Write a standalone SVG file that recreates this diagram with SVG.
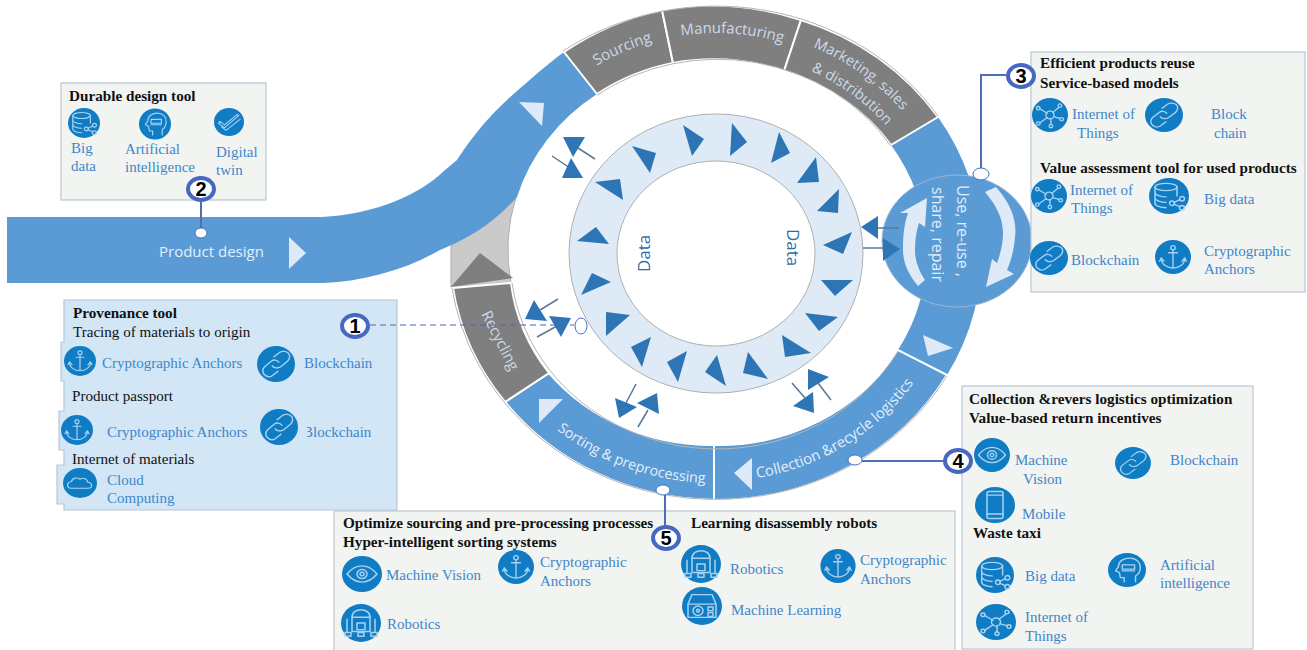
<svg xmlns="http://www.w3.org/2000/svg" xmlns:xlink="http://www.w3.org/1999/xlink" width="1307" height="650" viewBox="0 0 1307 650">
<style>
.band{fill:#5b9bd5}
.grey{fill:#7f7f7f;stroke:#fff;stroke-width:2}
.blue{fill:#5b9bd5;stroke:#fff;stroke-width:2}
.edge{fill:none;stroke:#b5b5b5;stroke-width:1}
.lt{fill:#deeaf7}
.tri{fill:#2e75b6}
.arr{stroke:#5a7896;stroke-width:1.5;fill:none}
.conn{stroke:#4f6fb5;stroke-width:2;fill:none}
.dot{fill:#fff;stroke:#4472c4;stroke-width:1}
.panel{fill:#f2f4f2;stroke:#b9c6d6;stroke-width:1.2}
.h{font:bold 15.2px "Liberation Serif",serif;fill:#111}
.b{font:15.1px "Liberation Serif",serif;fill:#111}
.t{font:15px "Liberation Serif",serif;fill:#3f86c8}
.w{font:15px "Open Sans",sans-serif;fill:#e4eefa}
.g{font:15px "Open Sans",sans-serif;fill:#cddaea}
.d{font:500 17px "Open Sans",sans-serif;fill:#2e6da4}
.num{fill:#fff;stroke:#4668c0;stroke-width:4}
.n{font:bold 20px "Liberation Sans",sans-serif;fill:#000;text-anchor:middle}
.ic{fill:none;stroke:#a9d2ef;stroke-width:1.5;stroke-linecap:round;stroke-linejoin:round}
</style>
<defs>
<circle id="bg" r="20" fill="#0f7cc4"/>
<g id="i-data"><use href="#bg"/><g class="ic"><ellipse cx="-3" cy="-10" rx="11" ry="4"/><path d="M-14-10V8C-14 11-8 13-3 13M8-10V0M-14-4C-14-1-8 1-3 1M-14 2C-14 5-8 7-3 7"/><circle cx="3" cy="8" r="2.5"/><circle cx="13" cy="3" r="2.5"/><circle cx="13" cy="13" r="2.5"/><path d="M5 7L11 4M5 9L11 12"/></g></g>
<g id="i-ai"><use href="#bg"/><g class="ic"><path d="M-3 14V9H-7L-8 3-12 1-9-4C-9-11-3-14 3-14 10-14 14-9 14-3 14 2 12 5 9 7V14"/><path d="M-5-6H8V-1H-5ZM-5 1H8"/></g></g>
<g id="i-twin"><use href="#bg"/><g class="ic"><path d="M-14 2L-6 8 13-9 11-11-6 4-12-1ZM-10 7L-4 12 15-4"/></g></g>
<g id="i-iot"><use href="#bg"/><g class="ic"><circle r="4.5"/><circle cx="-13" cy="-8" r="2"/><circle cx="-13" cy="10" r="2"/><circle cx="1" cy="13" r="2"/><circle cx="13" cy="5" r="2"/><circle cx="11" cy="-11" r="2"/><path d="M-3-2L-11-7M-3 3L-11 9M1 4V11M4 2L11 4M3-3L10-9"/></g></g>
<g id="i-chain"><use href="#bg"/><g class="ic" stroke-width="2"><path d="M-2-8L4-13C7-15 11-14 13-12S15-6 12-3L5 3C2 5-2 5-4 2"/><path d="M3-2C1-5-3-5-5-3L-12 3C-15 6-14 10-12 12S-7 15-4 13L2 8"/></g></g>
<g id="i-anchor"><use href="#bg"/><g class="ic"><circle cy="-11" r="2.5"/><path d="M0-8V13M-5-5H5M-13 2C-13 9-6 13 0 13S13 9 13 2M-15 5L-13 1-10 5M10 5L13 1 15 5"/></g></g>
<g id="i-eye"><use href="#bg"/><g class="ic"><path d="M-15 0C-9-8-4-9 0-9S9-8 15 0C9 8 4 9 0 9S-9 8-15 0Z"/><circle r="5"/><circle r="2"/></g></g>
<g id="i-mobile"><use href="#bg"/><g class="ic"><rect x="-8" y="-15" width="16" height="30" rx="2"/><path d="M-8-11H8M-8 10H8"/></g></g>
<g id="i-robot"><use href="#bg"/><g class="ic"><path d="M-9-6C-9-12-4-14 0-14S9-12 9-6V9H-9Z"/><path d="M-9-6H9M-14-4V10M14-4V10M-4 0H4V7H-4ZM-16 10H-10V14H-16ZM-3 10H3V14H-3ZM10 10H16V14H10Z"/></g></g>
<g id="i-cloud"><use href="#bg"/><path class="ic" d="M-11 7C-16 7-16-1-10-2-9-7-3-8 0-5 4-8 9-5 9-1 15-1 15 7 10 7Z"/></g>
<g id="i-ml"><use href="#bg"/><g class="ic"><path d="M-14-2L-10-12H10L14-2V12H-14ZM-14-2H14"/><circle cx="-4" cy="5" r="5"/><circle cx="-4" cy="5" r="1.5"/><path d="M6 1H11V5H6ZM6 7H11V11H6Z"/></g></g>
<path id="p-top" d="M488 253A228 220 0 0 1 944 253"/>
<path id="p-mk1" d="M813 47A240 225 0 0 1 956 253"/>
<path id="p-mk2" d="M811 71A219 202 0 0 1 935 253"/>
<path id="p-sort" d="M557 430A248 230 0 0 0 716 483"/>
<path id="p-coll" d="M757 478A240 228 0 0 0 925 366"/>
</defs>

<g id="inner-ring">
<path fill-rule="evenodd" fill="#deeaf6" stroke="#b0b0b0" stroke-width="1" d="M569 253.500A147 139.500 0 1 1 863 253.500A147 139.500 0 1 1 569 253.500ZM617 253.500A99 92.500 0 1 0 815 253.500A99 92.500 0 1 0 617 253.500Z"/>
<g class="tri">
<polygon points="683,125 704,139 692,156"/><polygon points="732,123 747,142 730,156"/><polygon points="779,132 790,153 771,163"/><polygon points="816,157 819,182 797,183"/><polygon points="839,189 838,213 817,211"/><polygon points="852,232 843,254 823,245"/><polygon points="632,146 656,153 650,173"/><polygon points="595,182 620,179 623,200"/><polygon points="577,241 596,227 609,244"/><polygon points="821,280 853,280 835,296"/><polygon points="805,313 838,317 819,331"/><polygon points="782,335 811,353 785,357"/><polygon points="748,352 768,379 743,373"/><polygon points="717,355 726,386 705,372"/><polygon points="687,351 678,382 667,362"/><polygon points="651,337 642,367 631,347"/><polygon points="606,312 630,315 606,336"/><polygon points="581,295 592,273 611,282"/>
</g>
<text class="d" transform="translate(650 272) rotate(-90)">Data</text>
<text class="d" transform="translate(787 229) rotate(90)">Data</text>
</g>

<g id="recycling-entry">
<path fill="#cbcaca" stroke="#adadad" d="M451 287V246L516 197A208 192 0 0 0 511 283Z"/>
<polygon points="480,253 513,278 451,287" fill="#7f7f7f"/>
</g>

<g id="product-design">
<path class="band" d="M7 217H322C375 214 420 195 445 170L457 160C465 148 480 125 507 100C525 84 545 66 564 52L597 94A208 192 0 0 0 517 197C495 222 470 238 440 250C405 270 365 281 324 283H7Z"/>
<polygon class="lt" points="289,237 306,253 289,269"/>
<polygon class="lt" points="519,102 544,103 542,126"/>
<text class="w" x="159" y="257">Product design</text>
</g>

<g id="use-band">
<path class="band" d="M938 117A266 247 0 0 1 947 375L898 350A208 192 0 0 0 891 145Z"/>
<polygon class="lt" points="923,335 953,348 928,356"/>
</g>

<g id="sourcing">
<path class="grey" d="M564 52A266 247 0 0 1 662 10L673 63A208 192 0 0 0 597 94Z"/>
<text class="g"><textPath href="#p-top" startOffset="36.500%" text-anchor="middle">Sourcing</textPath></text>
</g>
<g id="manufacturing">
<path class="grey" d="M662 10A266 247 0 0 1 801 20L784 71A208 192 0 0 0 673 63Z"/>
<text class="g"><textPath href="#p-top" startOffset="52.300%" text-anchor="middle">Manufacturing</textPath></text>
</g>
<g id="marketing">
<path class="grey" d="M801 20A266 247 0 0 1 938 117L891 145A208 192 0 0 0 784 71Z"/>
<text class="g" style="font-size:14.600px"><textPath href="#p-mk1">Marketing, sales</textPath></text>
<text class="g" style="font-size:14.600px"><textPath href="#p-mk2">&amp; distribution</textPath></text>
</g>
<g id="collection">
<path class="blue" d="M947 375A266 247 0 0 1 714 500V445A208 192 0 0 0 898 350Z"/>
<polygon class="lt" points="752,458 734,473 752,490"/>
<text class="w" style="font-size:14.700px"><textPath href="#p-coll">Collection &amp;recycle logistics</textPath></text>
</g>
<g id="sorting">
<path class="blue" d="M714 500A266 247 0 0 1 505 402L549 373A208 192 0 0 0 714 445Z"/>
<polygon class="lt" points="539,399 563,399 539,423"/>
<text class="w" style="font-size:14.300px"><textPath href="#p-sort">Sorting &amp; preprocessing</textPath></text>
</g>
<g id="recycling">
<path class="grey" d="M505 402A266 247 0 0 1 453 288L511 283A208 192 0 0 0 549 373Z"/>
<text class="g" transform="translate(481 314) rotate(63)">Recycling</text>
</g>
<path class="edge" d="M563 51A267 248 0 0 1 938 116M947 376A267 248 0 0 1 452 288M597 95A207 191 0 0 1 891 146M898 351A207 191 0 0 1 512 283"/>

<g id="hub">
<ellipse cx="957" cy="241" rx="75" ry="66" fill="#5b9bd5" stroke="#9db6d0" stroke-width="1"/>
<path class="lt" d="M985 192L996 187C1012 205 1017 222 1015 237C1014 250 1011 261 1007 270L1014 274 986 287 992 259 997 263C1001 252 1003 243 1003 233C1003 218 996 205 985 192Z"/>
<path class="lt" d="M925 280L918 286C908 274 903 262 903 250C903 236 904 224 908 213L900 213 927 198 925 227 919 223C916 232 915 241 915 250C915 261 919 271 925 280Z"/>
<text class="w" style="font-size:16px" transform="translate(957 185) rotate(90)">Use, re-use ,</text>
<text class="w" style="font-size:16px" transform="translate(932 187) rotate(90)">share, repair</text>
</g>

<g id="exchange-arrows">
<path class="arr" d="M578 148L595 159M552 156L570 168M878 228H899M863 248H883M540 310L558 299M537 337L557 326M636 384L626 403M638 427L648 410M818 383L831 400M792 383L805 398"/>
<g class="tri">
<polygon points="563,137 585,137 573,157"/><polygon points="571,158 583,178 562,178"/><polygon points="861,227 878,216 878,239"/><polygon points="883,238 900,249 883,261"/><polygon points="534,300 547,321 525,319"/><polygon points="549,316 571,318 561,337"/><polygon points="615,398 637,407 619,418"/><polygon points="637,403 657,393 659,414"/><polygon points="808,369 829,377 808,390"/><polygon points="813,392 814,413 793,406"/>
</g>
</g>

<g id="panel-2">
<rect class="panel" x="61" y="83" width="205" height="117"/>
<text class="h" x="69" y="101">Durable design tool</text>
<use href="#i-data" transform="translate(84 123) scale(.8 .75)"/>
<use href="#i-ai" transform="translate(155 124) scale(.8 .78)"/>
<use href="#i-twin" transform="translate(229 122) scale(.75 .7)"/>
<text class="t" x="71" y="153">Big</text><text class="t" x="71" y="171">data</text>
<text class="t" x="125" y="154">Artificial</text><text class="t" x="125" y="172">intelligence</text>
<text class="t" x="216" y="157">Digital</text><text class="t" x="216" y="175">twin</text>
</g>

<g id="panel-3">
<rect class="panel" x="1031" y="52" width="274" height="240"/>
<text class="h" x="1040" y="68">Efficient products reuse</text>
<text class="h" x="1040" y="88">Service-based models</text>
<text class="h" x="1040" y="173">Value assessment tool for used products</text>
<use href="#i-iot" transform="translate(1050 115) scale(.9 .85)"/>
<use href="#i-chain" transform="translate(1164 115) scale(.95 .85)"/>
<use href="#i-iot" transform="translate(1049 196) scale(.9 .85)"/>
<use href="#i-data" transform="translate(1169 196) scale(1 .9)"/>
<use href="#i-chain" transform="translate(1049 258) scale(.95 .85)"/>
<use href="#i-anchor" transform="translate(1173 257) scale(.9 .85)"/>
<text class="t" x="1072" y="119">Internet of</text><text class="t" x="1077" y="138">Things</text>
<text class="t" x="1211" y="119">Block</text><text class="t" x="1214" y="138">chain</text>
<text class="t" x="1070" y="195">Internet of</text><text class="t" x="1071" y="213">Things</text>
<text class="t" x="1204" y="204">Big data</text>
<text class="t" x="1071" y="265">Blockchain</text>
<text class="t" x="1204" y="256">Cryptographic</text><text class="t" x="1204" y="274">Anchors</text>
</g>

<g id="panel-1">
<path fill="#d2e6f6" stroke="#b9c6d6" stroke-width="1.200" d="M64 300H397V510H64V504H57V465H64V450H59V411H64V381H61V342H64Z"/>
<text class="h" x="73" y="318">Provenance tool</text>
<text class="b" x="73" y="337">Tracing of materials to origin</text>
<text class="b" x="72" y="401">Product passport</text>
<text class="b" x="72" y="464">Internet of materials</text>
<use href="#i-anchor" transform="translate(80 361) scale(.8 .75)"/>
<use href="#i-chain" transform="translate(276 364) scale(.95 .9)"/>
<use href="#i-anchor" transform="translate(77 430) scale(.8 .75)"/>
<use href="#i-chain" transform="translate(279 427) scale(.95 .9)"/>
<use href="#i-cloud" transform="translate(80 483) scale(.85 .75)"/>
<text class="t" x="102" y="368">Cryptographic Anchors</text>
<text class="t" x="304" y="368">Blockchain</text>
<text class="t" x="107" y="437">Cryptographic Anchors</text>
<text class="t" x="303" y="437">Blockchain</text>
<rect x="300" y="424" width="7" height="16" fill="#d2e6f6"/>
<text class="t" x="107" y="485">Cloud</text><text class="t" x="107" y="503">Computing</text>
</g>

<g id="panel-5">
<rect class="panel" x="334" y="511" width="621" height="140"/>
<text class="h" x="343" y="528">Optimize sourcing and pre-processing processes</text>
<text class="h" x="343" y="547">Hyper-intelligent sorting systems</text>
<text class="h" x="691" y="528">Learning disassembly robots</text>
<use href="#i-eye" transform="translate(362 574) scale(1 .9)"/>
<use href="#i-anchor" transform="translate(516 567) scale(.9 .85)"/>
<use href="#i-robot" transform="translate(701 564) scale(1 .95)"/>
<use href="#i-anchor" transform="translate(838 566) scale(.88 .85)"/>
<use href="#i-ml" transform="translate(702 606) scale(1 .95)"/>
<use href="#i-robot" transform="translate(361 623) scale(1 .95)"/>
<text class="t" x="386" y="580">Machine Vision</text>
<text class="t" x="540" y="567">Cryptographic</text><text class="t" x="540" y="586">Anchors</text>
<text class="t" x="730" y="574">Robotics</text>
<text class="t" x="860" y="565">Cryptographic</text><text class="t" x="860" y="584">Anchors</text>
<text class="t" x="731" y="615">Machine Learning</text>
<text class="t" x="387" y="629">Robotics</text>
</g>

<g id="panel-4">
<rect class="panel" x="962" y="386" width="291" height="263"/>
<text class="h" x="969" y="404">Collection &amp;revers logistics optimization</text>
<text class="h" x="969" y="423">Value-based return incentives</text>
<text class="h" x="973" y="538">Waste taxi</text>
<use href="#i-eye" transform="translate(992 455) scale(.9 .85)"/>
<use href="#i-chain" transform="translate(1133 463) scale(.9 .8)"/>
<use href="#i-mobile" transform="translate(995 505) scale(1 .9)"/>
<use href="#i-data" transform="translate(995 575) scale(.95 .9)"/>
<use href="#i-ai" transform="translate(1127 570) scale(.95 .85)"/>
<use href="#i-iot" transform="translate(996 622) scale(1 .9)"/>
<text class="t" x="1015" y="465">Machine</text><text class="t" x="1023" y="484">Vision</text>
<text class="t" x="1170" y="465">Blockchain</text>
<text class="t" x="1022" y="519">Mobile</text>
<text class="t" x="1025" y="581">Big data</text>
<text class="t" x="1160" y="570">Artificial</text><text class="t" x="1160" y="588">intelligence</text>
<text class="t" x="1025" y="622">Internet of</text><text class="t" x="1025" y="641">Things</text>
</g>

<g id="connectors">
<path d="M370 325H574" stroke="#4468b8" stroke-width="1.200" stroke-dasharray="6 4" fill="none"/>
<path class="conn" d="M201 200V228M981 168V75H1006M862 461H945M665 495V526"/>
<ellipse class="dot" cx="581" cy="326" rx="6" ry="8"/>
<ellipse class="dot" cx="201" cy="233" rx="6" ry="5"/>
<ellipse class="dot" cx="981" cy="174" rx="8" ry="6"/>
<ellipse class="dot" cx="855" cy="460" rx="7" ry="5"/>
<ellipse class="dot" cx="663" cy="490" rx="7" ry="5"/>
</g>

<g id="badge-1"><ellipse class="num" cx="355" cy="326" rx="13" ry="11"/><text class="n" x="355" y="333">1</text></g>
<g id="badge-2"><ellipse class="num" cx="201" cy="189" rx="13" ry="11"/><text class="n" x="201" y="196">2</text></g>
<g id="badge-3"><ellipse class="num" cx="1021" cy="76" rx="13" ry="11"/><text class="n" x="1021" y="83">3</text></g>
<g id="badge-4"><ellipse class="num" cx="958" cy="461" rx="13" ry="11"/><text class="n" x="958" y="468">4</text></g>
<g id="badge-5"><ellipse class="num" cx="666" cy="538" rx="13" ry="11"/><text class="n" x="666" y="545">5</text></g>
</svg>
